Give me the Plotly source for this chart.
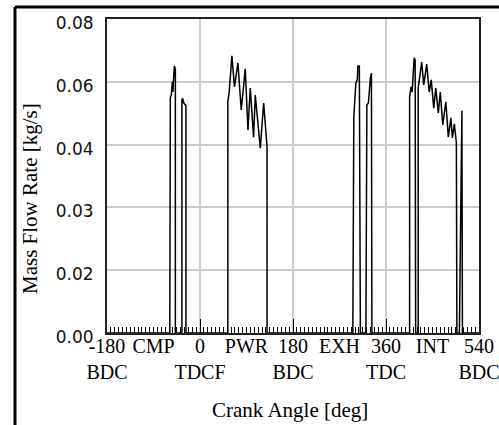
import plotly.graph_objects as go

# ---- data (crank angle in deg, mass flow rate in kg/s) ----
cmp_a_angle = [-58.5, -57.4, -55.5, -53.5, -52.5, -51.0, -49.6, -47.7, -47.7]
cmp_a_flow = [0.0, 0.0600, 0.0606, 0.0640, 0.0614, 0.0650, 0.0680, 0.0672, 0.0]
cmp_b_angle = [-35.0, -35.0, -33.5, -31.5, -29.5, -27.2, -27.2]
cmp_b_flow = [0.0, 0.0594, 0.0598, 0.0586, 0.0583, 0.0580, 0.0]
pwr_angle = [53.9, 53.9, 56.4, 61.7, 66.7, 73.4, 79.8, 87.6, 92.8, 97.3,
             103.7, 107.0, 116.7, 123.2, 129.8, 129.8]
pwr_flow = [0.0, 0.0591, 0.0612, 0.0706, 0.0627, 0.0688, 0.0568, 0.0673, 0.0517,
            0.0624, 0.0499, 0.0606, 0.0471, 0.0586, 0.0474, 0.0]
exh_a_angle = [295.8, 297.7, 301.6, 304.5, 305.5, 308.4, 310.4]
exh_a_flow = [0.0, 0.0550, 0.0637, 0.0645, 0.0680, 0.0680, 0.0]
exh_b_angle = [321.1, 323.0, 325.9, 327.9, 329.8, 331.8, 332.7]
exh_b_flow = [0.0, 0.0581, 0.0586, 0.0624, 0.0650, 0.0662, 0.0]
int_a_angle = [405.7, 405.7, 408.6, 410.6, 414.5, 416.4, 417.4]
int_a_flow = [0.0, 0.0601, 0.0627, 0.0614, 0.0701, 0.0696, 0.0]
int_b_angle = [422.3, 422.3, 425.2, 429.1, 433.0, 438.8, 443.7, 447.5, 452.4, 456.3,
               461.2, 465.1, 469.9, 475.8, 480.6, 485.5, 488.4, 492.3, 496.2, 497.2]
int_b_flow = [0.0, 0.0624, 0.0657, 0.0690, 0.0632, 0.0685, 0.0614, 0.0645, 0.0573, 0.0624,
              0.0561, 0.0614, 0.0530, 0.0589, 0.0499, 0.0548, 0.0497, 0.0533, 0.0484, 0.0]
int_c_angle = [502.0, 506.9, 507.9]
int_c_flow = [0.0, 0.0566, 0.0]

x_range = [-180, 540]
y_range = [0.0, 0.08]
x_tick_vals = [-180, -90, 0, 90, 180, 270, 360, 450, 540]
x_tick_text = ["-180<br>BDC", "CMP", "0<br>TDCF", "PWR", "180<br>BDC",
               "EXH", "360<br>TDC", "INT", "540<br>BDC"]
y_tick_vals = [0.0, 0.016, 0.032, 0.048, 0.064, 0.08]
y_tick_text = ["0.00", "0.02", "0.03", "0.04", "0.06", "0.08"]

angles = ([x_range[0]] + cmp_a_angle + cmp_b_angle + pwr_angle + exh_a_angle
          + exh_b_angle + int_a_angle + int_b_angle + int_c_angle + [x_range[1]])
flows = ([0.0] + cmp_a_flow + cmp_b_flow + pwr_flow + exh_a_flow
         + exh_b_flow + int_a_flow + int_b_flow + int_c_flow + [0.0])

fig = go.Figure()
fig.add_trace(go.Scatter(x=angles, y=flows, mode="lines",
                         line=dict(color="black", width=1.5),
                         showlegend=False, hoverinfo="skip"))
# helper trace so the overlaid tick/grid axis is drawn
fig.add_trace(go.Scatter(x=angles, y=[None] * len(angles), xaxis="x2",
                         mode="lines", showlegend=False, hoverinfo="skip"))

L, R, T, B = 107, 20, 19, 92
W, H = 499, 425
pw, ph = W - L - R, H - T - B

def px(x):
    return (x - L) / pw

def py(y):
    return (H - B - y) / ph

serif = "Liberation Serif"
fig.update_layout(
    width=W, height=H,
    margin=dict(l=L, r=R, t=T, b=B, pad=0),
    paper_bgcolor="white", plot_bgcolor="white",
    xaxis=dict(range=x_range, tickmode="array", tickvals=x_tick_vals,
               ticktext=x_tick_text, ticks="", showgrid=False, zeroline=False,
               tickangle=0, automargin=False, ticklabeloverflow="allow",
               ticklabelstandoff=-6,
               showline=True, linecolor="#222", linewidth=2, mirror=True,
               tickfont=dict(family=serif, size=20, color="black")),
    xaxis2=dict(range=x_range, overlaying="x", anchor="y", side="bottom",
                tickmode="linear", tick0=0, dtick=180, ticks="inside",
                ticklen=14, tickcolor="black", tickwidth=1,
                showticklabels=False, showgrid=True, gridcolor="#cccccc",
                gridwidth=1.5, zeroline=False, showline=False,
                minor=dict(tickmode="linear", tick0=0, dtick=7.5, ticks="inside",
                           ticklen=6, tickcolor="black", tickwidth=1, showgrid=False)),
    yaxis=dict(range=y_range, tickmode="array", tickvals=y_tick_vals,
               ticktext=y_tick_text, ticks="", showgrid=True, gridcolor="#cccccc",
               gridwidth=1.5, zeroline=False, showline=True, linecolor="#222",
               linewidth=2, mirror=True, ticklabelstandoff=8, ticklabelshift=4,
               automargin=False, ticklabeloverflow="allow",
               tickfont=dict(family="DejaVu Sans", size=17, color="#111")),
    annotations=[
        dict(text="Crank Angle [deg]", xref="paper", yref="paper",
             x=px(290), y=py(410), xanchor="center", yanchor="middle",
             showarrow=False, font=dict(family=serif, size=21, color="black")),
        dict(text="Mass Flow Rate [kg/s]", xref="paper", yref="paper",
             x=px(30), y=py(199), xanchor="center", yanchor="middle", textangle=-90,
             showarrow=False, font=dict(family=serif, size=21, color="black")),
    ],
    shapes=[
        dict(type="line", xref="paper", yref="paper", x0=px(15), x1=px(15),
             y0=py(7), y1=py(H), line=dict(color="black", width=3)),
        dict(type="line", xref="paper", yref="paper", x0=px(15), x1=px(W),
             y0=py(7), y1=py(7), line=dict(color="black", width=3)),
    ],
)

fig.write_html("out.html")
